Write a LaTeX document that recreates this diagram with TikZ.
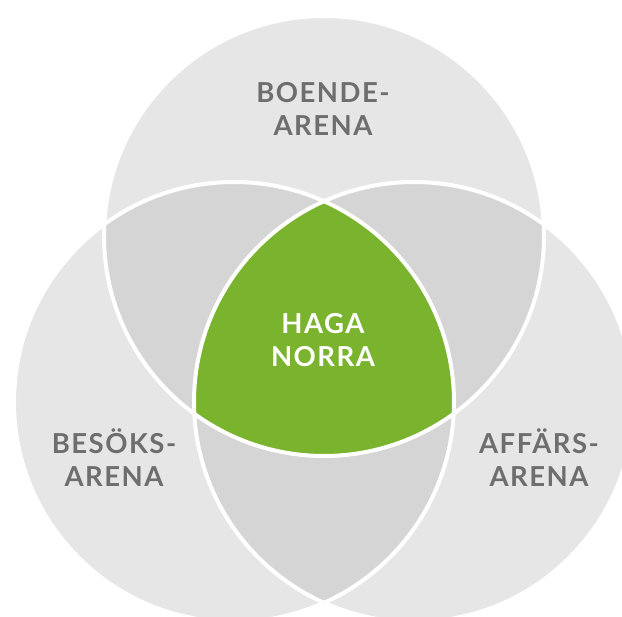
\documentclass[tikz,border=0pt]{standalone}
\usepackage{fontspec}
\setmainfont{Lato}
\newfontfamily\arenafont{Lato Bold}[LetterSpace=5.5]
\definecolor{arenagray}{HTML}{E6E6E6}
\definecolor{overlapgray}{HTML}{D5D5D5}
\definecolor{hagagreen}{HTML}{7AB32E}
\definecolor{labelgray}{HTML}{6E6E6E}
\newcommand{\arenarad}{220pt}
\tikzset{
  rim/.style={draw=white, line width=4pt},
  arenalabel/.style={text=labelgray, align=center, inner sep=0pt,
    font=\arenafont\fontsize{27.5}{33}\selectfont},
  centrelabel/.style={arenalabel, text=white},
}

\begin{document}
\begin{tikzpicture}[x=1pt, y=-1pt]
    \useasboundingbox (0,0) rectangle (622,617);
    \clip (0,0) rectangle (622,617);
    % circle centres
    \coordinate (boende) at (324,236);
    \coordinate (besok) at (234,402);
    \coordinate (affar) at (414,402);
    % the three arenas
    \fill[arenagray] (boende) circle[radius=\arenarad];
    \fill[arenagray] (besok) circle[radius=\arenarad];
    \fill[arenagray] (affar) circle[radius=\arenarad];
    % overlaps of two
    \begin{scope}
        \clip (boende) circle[radius=\arenarad];
        \fill[overlapgray] (besok) circle[radius=\arenarad];
        \fill[overlapgray] (affar) circle[radius=\arenarad];
    \end{scope}
    \begin{scope}
        \clip (besok) circle[radius=\arenarad];
        \fill[overlapgray] (affar) circle[radius=\arenarad];
    \end{scope}
    % overlap of all three
    \begin{scope}
        \clip (boende) circle[radius=\arenarad];
        \clip (besok) circle[radius=\arenarad];
        \fill[hagagreen] (affar) circle[radius=\arenarad];
    \end{scope}
    % white rims on top
    \draw[rim] (boende) circle[radius=\arenarad];
    \draw[rim] (besok) circle[radius=\arenarad];
    \draw[rim] (affar) circle[radius=\arenarad];
    % labels
    \node[arenalabel] (boendelabel) at (323,109) {BOENDE-\\ARENA};
    \node[arenalabel] (besoklabel) at (114,458) {BESÖKS-\\ARENA};
    \node[arenalabel] (affarlabel) at (539,458) {AFFÄRS-\\ARENA};
    \node[centrelabel] (haga) at (323,340) {HAGA\\NORRA};
\end{tikzpicture}
\end{document}
